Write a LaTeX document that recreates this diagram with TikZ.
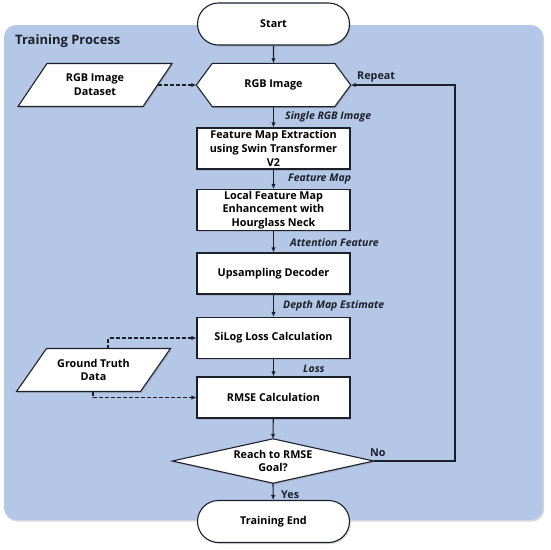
\documentclass[tikz,border=0pt]{standalone}
\usepackage{fontspec}
\setmainfont{Open Sans}
\usetikzlibrary{arrows.meta,shadows,shapes.misc}
\definecolor{bgblue}{RGB}{180,199,231}
\definecolor{ink}{RGB}{28,32,42}
\begin{document}
\begin{tikzpicture}[x=1pt,y=-1pt,
  font=\bfseries\fontsize{10.8}{13.8}\selectfont,
  shad/.style={drop shadow={opacity=0.3,shadow xshift=1.2pt,shadow yshift=-1.5pt}},
  edge/.style={draw=ink,line width=1.1pt},
  box/.style={edge,fill=white,shad,minimum width=153pt,minimum height=41pt,align=center,inner sep=0.5pt},
  term/.style={box,rounded rectangle,minimum height=42pt},
  ghost/.style={minimum width=154pt,minimum height=43pt,align=center,inner sep=0pt},
  outline/.style={edge,fill=white,shad},
  arr/.style={edge,-{Latex[length=5pt,width=4.5pt]}},
  darr/.style={arr,dash pattern=on 4pt off 2pt},
  lab/.style={font=\bfseries\itshape\fontsize{10.5}{12}\selectfont,text=ink,inner sep=0pt,anchor=west},
  plain/.style={text=ink,inner sep=0pt,anchor=west}
]
\useasboundingbox (0,0) rectangle (550,550);
% background panel
\fill[bgblue,rounded corners=12pt,shad] (4,25) rectangle (543,520);
\node[plain,font=\bfseries\fontsize{13}{15}\selectfont] (title) at (15,41) {Training Process};

% terminals
\node[term] (start) at (273.5,24) {Start};
\node[term] (end) at (273.5,521.5) {Training End};

% hexagon input
\node[ghost] (rgb) at (273.5,85) {};
\draw[outline] (rgb.west) -- ([xshift=16pt]rgb.north west) -- ([xshift=-16pt]rgb.north east)
  -- (rgb.east) -- ([xshift=-16pt]rgb.south east) -- ([xshift=16pt]rgb.south west) -- cycle;
\node at (rgb.center) {RGB Image};

% data parallelograms
\node[ghost] (ds) at (95,85) {};
\draw[outline] ([shift={(-77,21.5)}]ds.center) -- ([shift={(-48,-21.5)}]ds.center)
  -- ([shift={(77,-21.5)}]ds.center) -- ([shift={(48,21.5)}]ds.center) -- cycle;
\node[align=center] at (ds.center) {RGB Image\\Dataset};

\node[ghost] (gt) at (93.5,370) {};
\draw[outline] ([shift={(-77,21.5)}]gt.center) -- ([shift={(-47,-21.5)}]gt.center)
  -- ([shift={(77,-21.5)}]gt.center) -- ([shift={(47,21.5)}]gt.center) -- cycle;
\node[align=center] at (gt.center) {Ground Truth\\Data};

% process boxes
\node[box] (fme) at (273.5,148.5) {Feature Map Extraction\\using Swin Transformer\\V2};
\node[box] (lfe) at (273.5,210) {Local Feature Map\\Enhancement with\\Hourglass Neck};
\node[box] (ups) at (273.5,273.5) {Upsampling Decoder};
\node[box] (sil) at (273.5,338) {SiLog Loss Calculation};
\node[box] (rms) at (273.5,397.5) {RMSE Calculation};

% decision
\node[ghost,minimum width=201pt,minimum height=44pt] (dia) at (273,461) {};
\draw[outline] (dia.west) -- (dia.north) -- (dia.east) -- (dia.south) -- cycle;
\node[align=center] at (dia.center) {Reach to RMSE\\Goal?};

% main flow
\draw[arr] (start) -- (rgb.north);
\draw[arr] (rgb.south) -- (fme);
\draw[arr] (fme) -- (lfe);
\draw[arr] (lfe) -- (ups);
\draw[arr] (ups) -- (sil);
\draw[arr] (sil) -- (rms);
\draw[arr] (rms) -- (dia.north);
\draw[arr] (dia.south) -- (end);

% feedback loop
\coordinate (fb) at (455,461);
\draw[arr] (dia.east) -- (fb) |- (rgb.east);

% dashed data inputs
\coordinate (dsE) at ([xshift=62.5pt]ds.center);
\draw[darr] (dsE) -- (rgb.west);
\coordinate (gtT) at ([shift={(14.5,-21.5)}]gt.center);
\coordinate (gtB) at ([shift={(-0.5,21.5)}]gt.center);
\draw[darr] (gtT) |- (sil.west);
\draw[darr] (gtB) |- (rms.west);

% labels
\node[lab] (l1) at (285,117) {Single RGB Image};
\node[lab] (l2) at (288,179.5) {Feature Map};
\node[lab] (l3) at (290,243) {Attention Feature};
\node[lab] (l4) at (283,306) {Depth Map Estimate};
\node[lab] (l5) at (303,368.5) {Loss};
\node[plain] (rep) at (357,77) {Repeat};
\node[plain] (no) at (370,453) {No};
\node[plain] (yes) at (281,494.5) {Yes};
\end{tikzpicture}
\end{document}
